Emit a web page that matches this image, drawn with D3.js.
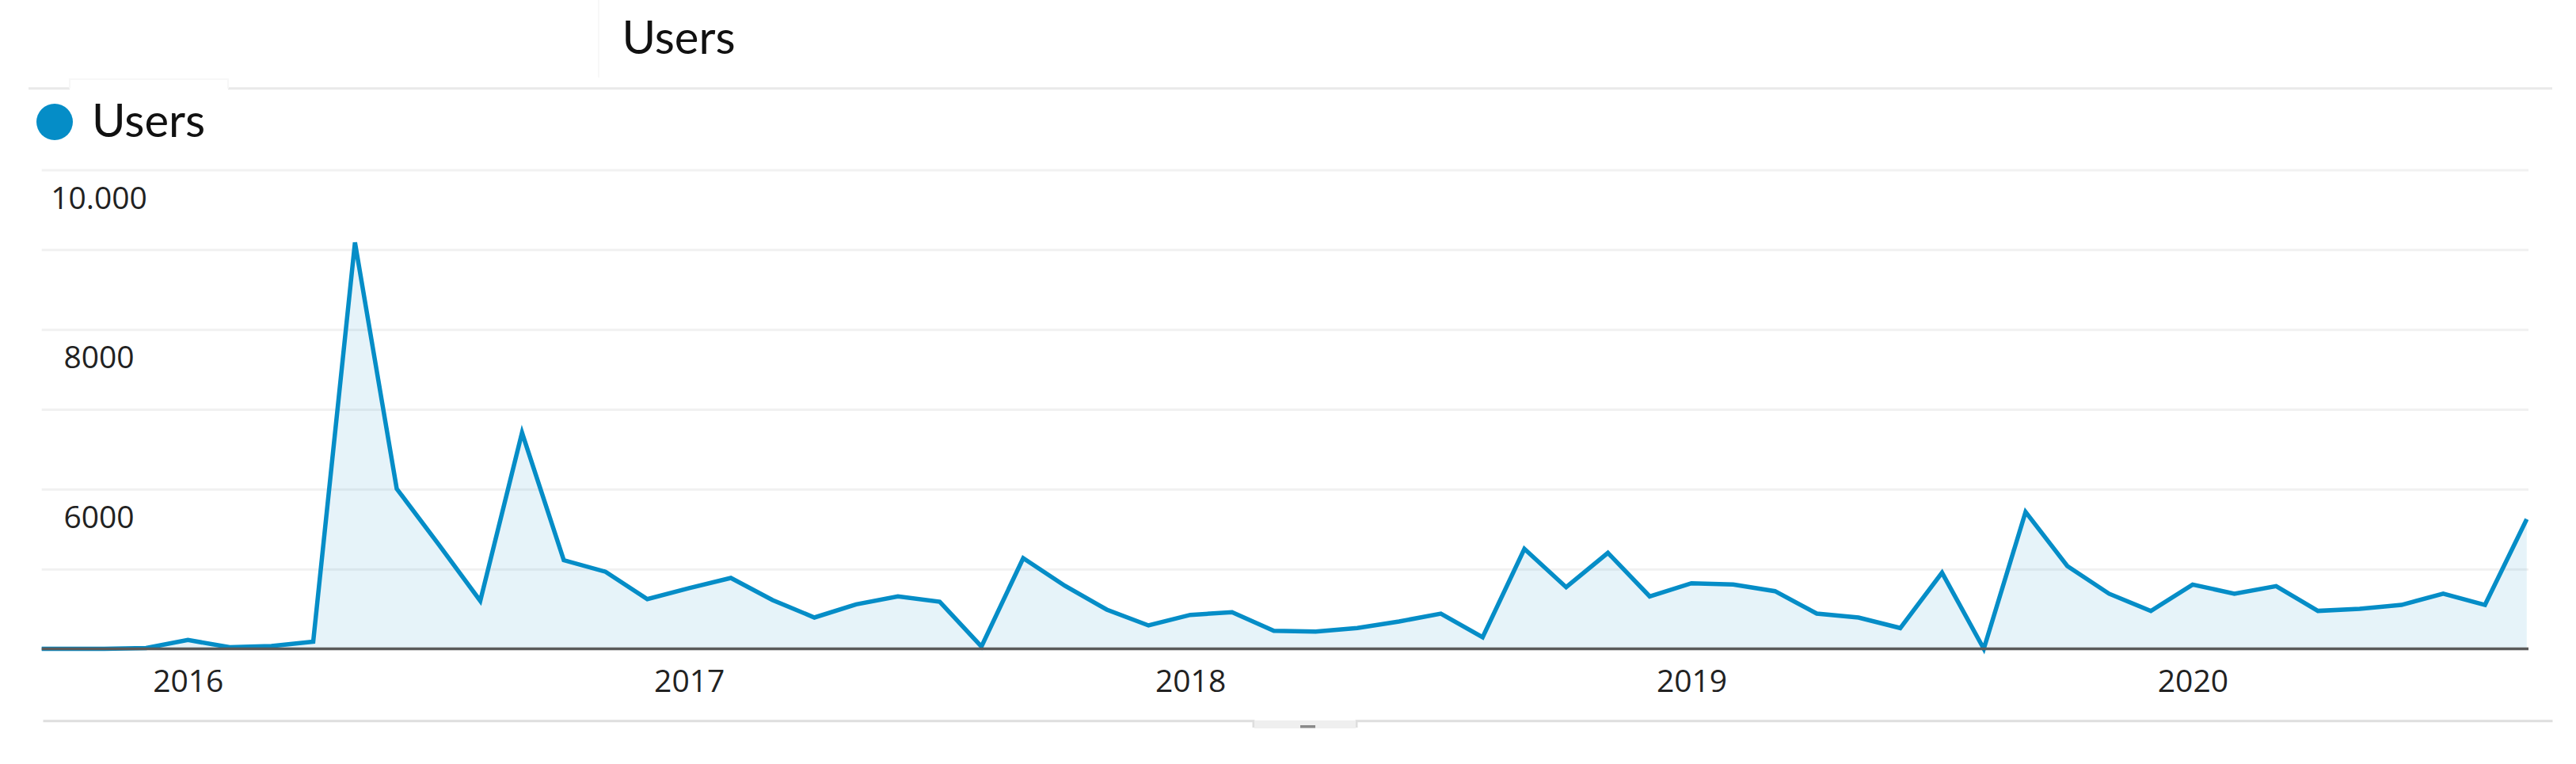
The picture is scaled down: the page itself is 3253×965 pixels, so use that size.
<!DOCTYPE html>
<html>
<head>
<meta charset="utf-8">
<title>Users</title>
<script src="https://cdn.jsdelivr.net/npm/d3@7/dist/d3.min.js"></script>
<style>
    body { margin: 0; background: #fff; }
    svg { display: block; }
</style>
</head>
<body>
<div id="chart"></div>
<script>
// Monthly users, Sep 2015 - Sep 2020.
// The first month sits just left of the plot and gets clipped (the line runs in from the edge).
const months = [
    '2015-09', '2015-10', '2015-11', '2015-12',
    '2016-01', '2016-02', '2016-03', '2016-04', '2016-05', '2016-06',
    '2016-07', '2016-08', '2016-09', '2016-10', '2016-11', '2016-12',
    '2017-01', '2017-02', '2017-03', '2017-04', '2017-05', '2017-06',
    '2017-07', '2017-08', '2017-09', '2017-10', '2017-11', '2017-12',
    '2018-01', '2018-02', '2018-03', '2018-04', '2018-05', '2018-06',
    '2018-07', '2018-08', '2018-09', '2018-10', '2018-11', '2018-12',
    '2019-01', '2019-02', '2019-03', '2019-04', '2019-05', '2019-06',
    '2019-07', '2019-08', '2019-09', '2019-10', '2019-11', '2019-12',
    '2020-01', '2020-02', '2020-03', '2020-04', '2020-05', '2020-06',
    '2020-07', '2020-08', '2020-09'
];

const users = [
    4000, 4000, 4000, 4010,
    4110, 4020, 4035, 4090, 9090, 6005,
    5310, 4600, 6707, 5110, 4965, 4623,
    4760, 4888, 4610, 4392, 4557, 4657,
    4590, 4028, 5136, 4789, 4491, 4293,
    4425, 4458, 4226, 4216, 4260, 4342,
    4441, 4144, 5252, 4772, 5202, 4657,
    4821, 4805, 4722, 4441, 4392, 4260,
    4954, 4000, 5714, 5037, 4690, 4474,
    4805, 4690, 4785, 4475, 4500, 4550,
    4690, 4550, 5625
];

// y axis: a gridline every 1000, a label on every other one
const yGridValues = [4000, 5000, 6000, 7000, 8000, 9000, 10000];
const yLabelValues = [10000, 8000, 6000];
const yLabelTexts = ['10.000', '8000', '6000'];

const seriesName = 'Users';
const chartTitle = 'Users';

// Layout
const W = 3253, H = 965;
const plot = { left: 52.7, right: 3193, top: 214.5, bottom: 819.5 };
const blue = '#058dc7';

const svg = d3.select('#chart')
    .append('svg')
    .attr('width', W)
    .attr('height', H);

svg.append('rect').attr('width', W).attr('height', H).attr('fill', '#fff');

// Scales - index based, months are evenly spaced like in GA
const x = d3.scaleLinear()
    .domain([0.5, months.length - 1])
    .range([plot.left, 3190.8]);

const y = d3.scaleLinear()
    .domain([4000, 10000])
    .range([plot.bottom, plot.top]);

// Header: title, thin separators, legend
svg.append('line')
    .attr('x1', 756).attr('x2', 756)
    .attr('y1', 0).attr('y2', 98)
    .attr('stroke', '#f8f8f8')
    .attr('stroke-width', 2);

svg.append('text')
    .attr('x', 857)
    .attr('y', 68)
    .attr('text-anchor', 'middle')
    .style('font-family', 'Lato, sans-serif')
    .style('font-size', '58px')
    .style('fill', '#111')
    .text(chartTitle);

svg.append('path')
    .attr('d', 'M36,111.7H88 M288,111.7H3223')
    .attr('fill', 'none')
    .attr('stroke', '#e9e9e9')
    .attr('stroke-width', 3);

svg.append('path')
    .attr('d', 'M88,111.7V100H288V111.7')
    .attr('fill', 'none')
    .attr('stroke', '#f7f7f7')
    .attr('stroke-width', 2);

const legend = svg.append('g').attr('class', 'legend');

legend.append('circle')
    .attr('cx', 69)
    .attr('cy', 154)
    .attr('r', 23)
    .attr('fill', blue);

legend.append('text')
    .attr('x', 116)
    .attr('y', 173)
    .style('font-family', 'Lato, sans-serif')
    .style('font-size', '58px')
    .style('fill', '#111')
    .text(seriesName);

// Gridlines
svg.append('g')
    .attr('class', 'grid')
    .attr('transform', `translate(${plot.left},0)`)
    .call(d3.axisLeft(y)
        .tickValues(yGridValues)
        .tickSize(-(plot.right - plot.left))
        .tickFormat(''))
    .call(g => g.select('.domain').remove())
    .call(g => g.selectAll('.tick line')
        .attr('stroke', '#f1f1f1')
        .attr('stroke-width', 3));

// Y labels hang under their gridline
svg.append('g')
    .attr('class', 'y-labels')
    .selectAll('text')
    .data(yLabelValues)
    .enter()
    .append('text')
    .attr('x', 125)
    .attr('y', d => y(d) + 49)
    .attr('text-anchor', 'middle')
    .style('font-family', '"Open Sans", sans-serif')
    .style('font-size', '39px')
    .style('fill', '#222')
    .text((d, i) => yLabelTexts[i]);

// Area + line, clipped to the plot
svg.append('clipPath')
    .attr('id', 'plot-clip')
    .append('rect')
    .attr('x', plot.left)
    .attr('y', 0)
    .attr('width', plot.right - plot.left)
    .attr('height', H);

const area = d3.area()
    .x((d, i) => x(i))
    .y0(y(4000))
    .y1(d => y(d));

const line = d3.line()
    .x((d, i) => x(i))
    .y(d => y(d));

const series = svg.append('g').attr('clip-path', 'url(#plot-clip)');

series.append('path')
    .datum(users)
    .attr('d', area)
    .attr('fill', blue)
    .attr('fill-opacity', 0.1);

// x axis baseline
svg.append('line')
    .attr('x1', plot.left)
    .attr('x2', plot.right)
    .attr('y1', y(4000))
    .attr('y2', y(4000))
    .attr('stroke', '#5a5a5a')
    .attr('stroke-width', 3.5);

series.append('path')
    .datum(users)
    .attr('d', line)
    .attr('fill', 'none')
    .attr('stroke', blue)
    .attr('stroke-width', 5.5)
    .attr('stroke-linejoin', 'miter');

// Year labels on the January points
const janIndexes = months
    .map((m, i) => (m.endsWith('-01') ? i : null))
    .filter(i => i !== null);

svg.append('g')
    .attr('class', 'x-axis')
    .attr('transform', `translate(0,${y(4000)})`)
    .call(d3.axisBottom(x)
        .tickValues(janIndexes)
        .tickSize(0)
        .tickFormat(i => months[i].slice(0, 4)))
    .call(g => g.select('.domain').remove())
    .call(g => g.selectAll('.tick text')
        .attr('y', 54.5)
        .attr('dy', null)
        .style('font-family', '"Open Sans", sans-serif')
        .style('font-size', '39px')
        .style('fill', '#222'));

// Bottom rule with the small scroll handle
svg.append('path')
    .attr('d', 'M54.5,910.7H1583V919 M1713,919V910.7H3223.5')
    .attr('fill', 'none')
    .attr('stroke', '#dedede')
    .attr('stroke-width', 3);

svg.append('rect')
    .attr('x', 1584)
    .attr('y', 910)
    .attr('width', 128)
    .attr('height', 10)
    .attr('fill', '#efefef');

svg.append('rect')
    .attr('x', 1642)
    .attr('y', 916)
    .attr('width', 19)
    .attr('height', 3.5)
    .attr('fill', '#8a8a8a');
</script>
</body>
</html>
